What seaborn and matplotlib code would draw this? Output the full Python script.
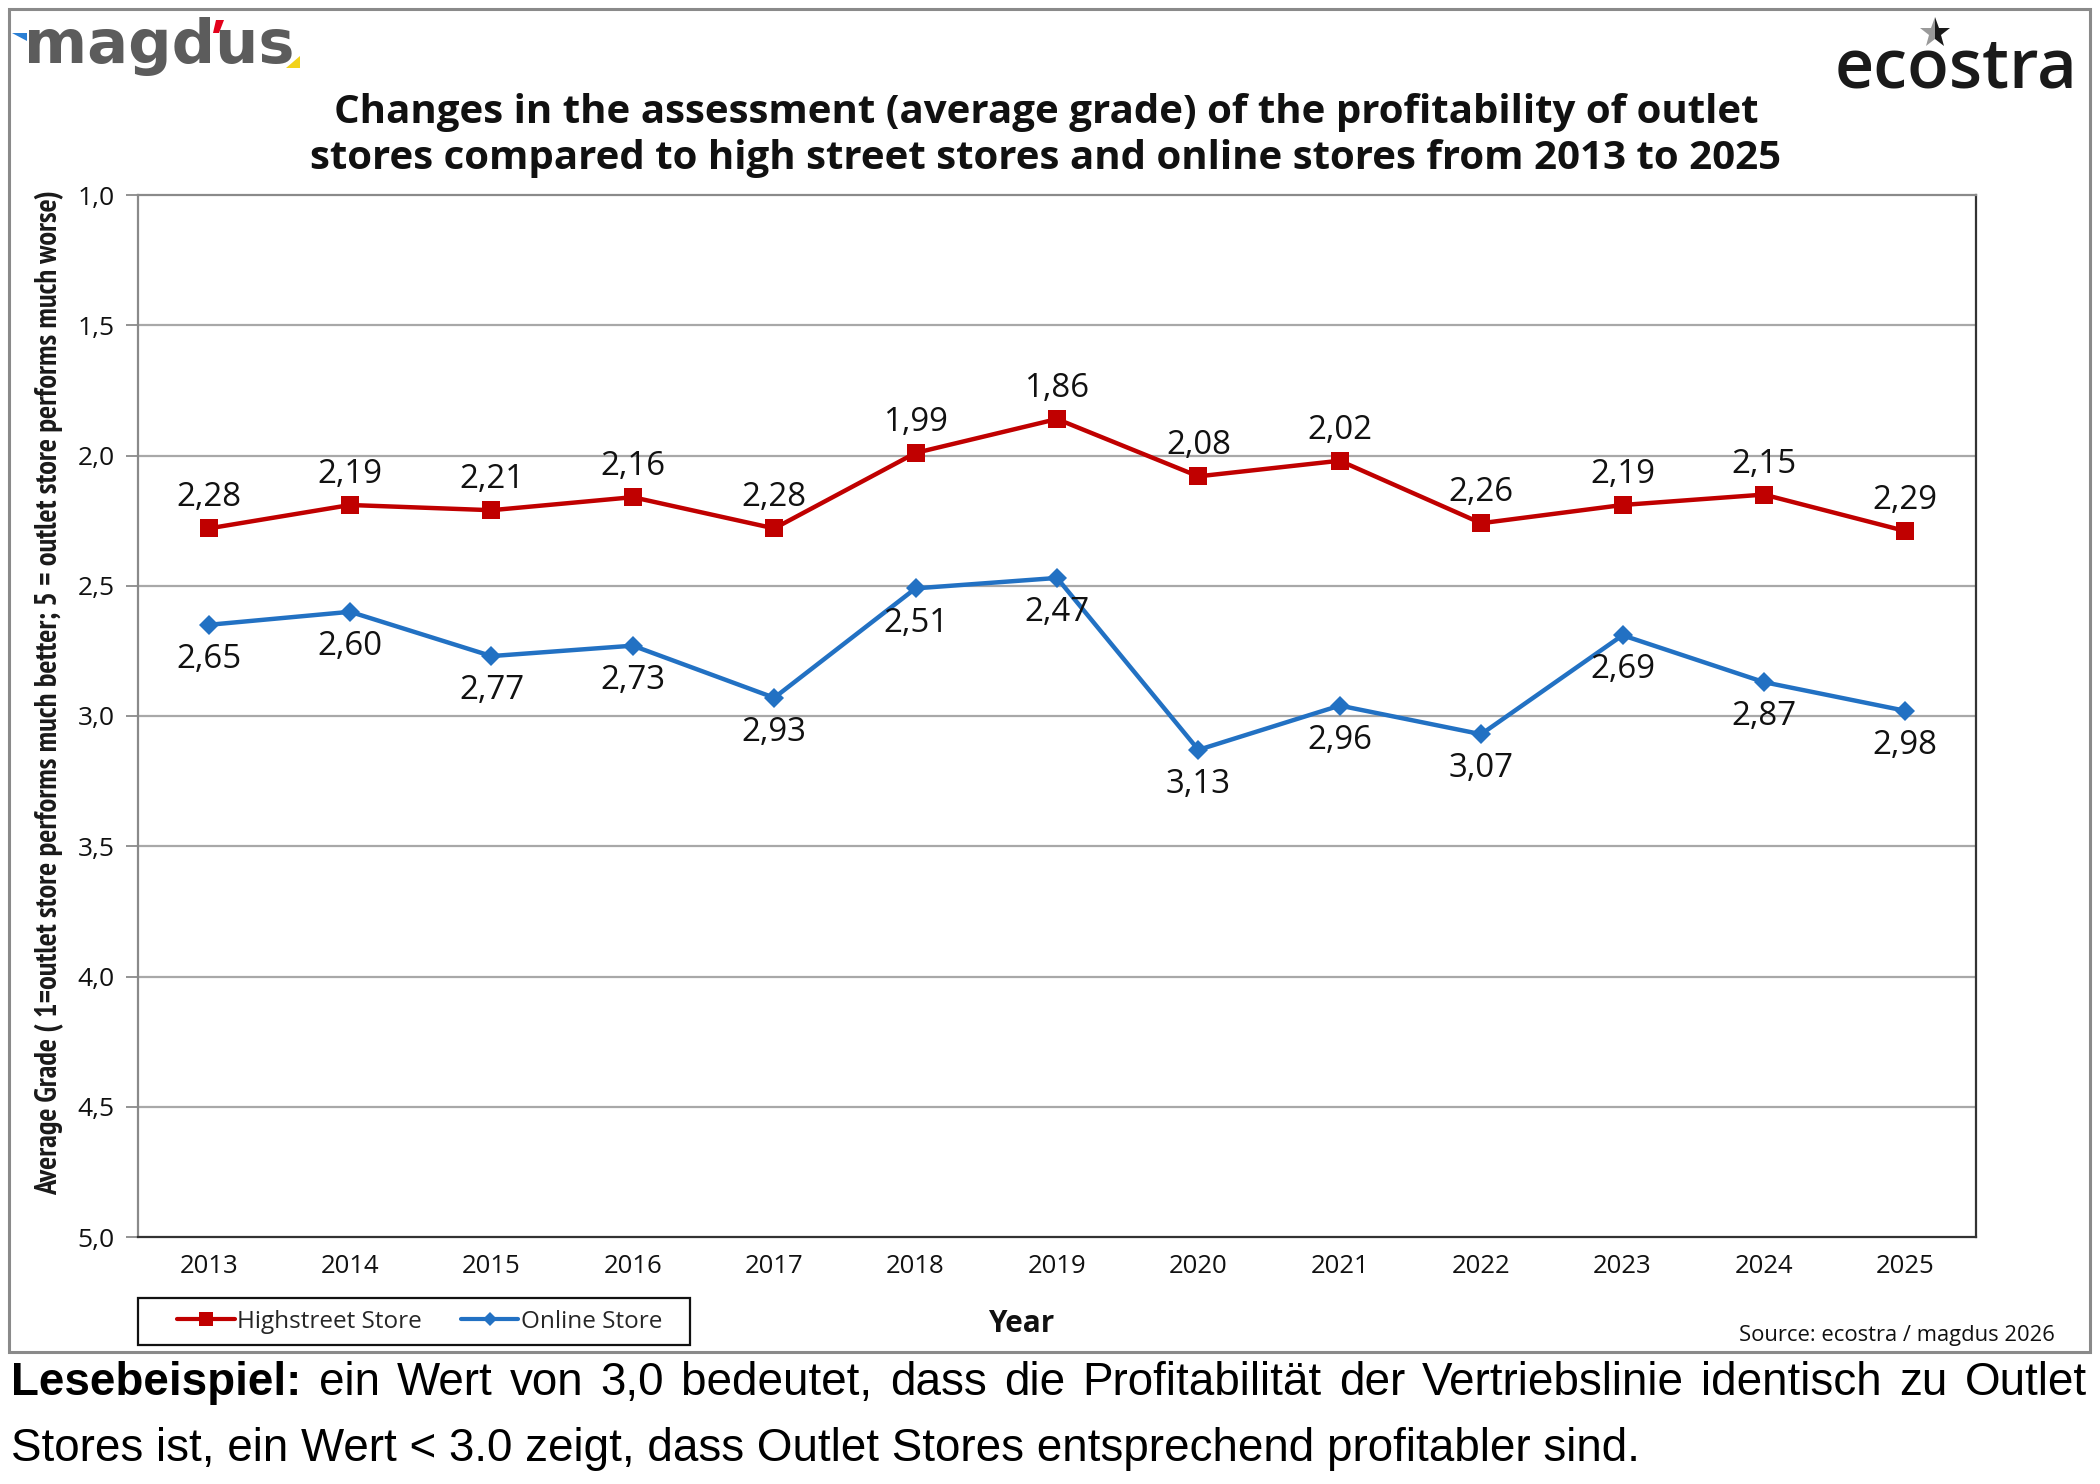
import matplotlib
matplotlib.use("Agg")
import matplotlib.pyplot as plt
import seaborn as sns
import pandas as pd
from matplotlib import font_manager as fm
from matplotlib.patches import Rectangle, Polygon
from matplotlib.lines import Line2D

# ---------------- data ----------------
years = ["2013", "2014", "2015", "2016", "2017", "2018", "2019",
         "2020", "2021", "2022", "2023", "2024", "2025"]
highstreet = [2.28, 2.19, 2.21, 2.16, 2.28, 1.99, 1.86, 2.08, 2.02, 2.26, 2.19, 2.15, 2.29]
online = [2.65, 2.60, 2.77, 2.73, 2.93, 2.51, 2.47, 3.13, 2.96, 3.07, 2.69, 2.87, 2.98]
y_ticks = [1.0, 1.5, 2.0, 2.5, 3.0, 3.5, 4.0, 4.5, 5.0]
series_names = ["Highstreet Store", "Online Store"]
title_lines = ["Changes in the assessment (average grade) of the profitability of outlet",
               "stores compared to high street stores and online stores from 2013 to 2025"]
y_label = "Average Grade ( 1=outlet store performs much better; 5 = outlet store performs much worse)"
x_label = "Year"
source = "Source: ecostra / magdus 2026"
note_line1 = "Lesebeispiel: ein Wert von 3,0 bedeutet, dass die Profitabilität der Vertriebslinie identisch zu Outlet"
note_line2 = "Stores ist, ein Wert < 3.0 zeigt, dass Outlet Stores entsprechend profitabler sind."

RED = "#C00000"
BLUE = "#2271C3"

# ---------------- fonts ----------------
def has_font(name):
    try:
        fm.findfont(fm.FontProperties(family=name), fallback_to_default=False)
        return True
    except Exception:
        return False

def pick(*names):
    avail = [n for n in names if has_font(n)]
    return avail + ["DejaVu Sans"]

SANS = pick("Open Sans", "Noto Sans")          # Tahoma-like
NARROW = pick("PT Sans Narrow", "Open Sans Condensed", "IBM Plex Sans Condensed")
ARIAL = pick("Liberation Sans", "Arimo")
LOGO = pick("Open Sans")

sns.set_theme(style="white")
plt.rcParams["font.family"] = SANS

W, H = 2100, 1484
fig = plt.figure(figsize=(21, 14.84), dpi=100)
fig.patch.set_facecolor("white")

def fx(px):
    return px / W

def fy(py):
    return 1 - py / H

# outer border
fig.add_artist(Rectangle((fx(9), fy(1352)), fx(2090) - fx(9), fy(9) - fy(1352),
                         transform=fig.transFigure, fill=False, edgecolor="#8a8a8a", lw=2.2))

ax = fig.add_axes([fx(138), fy(1237), fx(1976) - fx(138), fy(195) - fy(1237)])
ax.set_facecolor("white")

df = pd.DataFrame({"pos": range(len(years)), "Year": years,
                   series_names[0]: highstreet, series_names[1]: online})
long = df.melt(id_vars=["pos", "Year"], var_name="Series", value_name="Grade")

sns.lineplot(data=long[long.Series == series_names[0]], x="pos", y="Grade", color=RED,
             marker="s", markersize=13.5, markeredgewidth=0, linewidth=3.2, ax=ax, legend=False)
sns.lineplot(data=long[long.Series == series_names[1]], x="pos", y="Grade", color=BLUE,
             marker="D", markersize=10, markeredgewidth=0, linewidth=3.2, ax=ax, legend=False)

ax.set_xlim(-0.5, len(years) - 0.5)
ax.set_ylim(5.0, 1.0)
ax.set_yticks(y_ticks)
ax.set_yticklabels([f"{v:.1f}".replace(".", ",") for v in y_ticks],
                   fontsize=19, color="#111111")
ax.set_xticks(range(len(years)))
ax.set_xticklabels(years, fontsize=18.5, color="#111111")
ax.tick_params(axis="y", length=9, width=1.3, color="#8a8a8a", pad=8, left=True)
ax.tick_params(axis="x", length=0, pad=12)
ax.set_xlabel("")
ax.set_ylabel("")
for y in y_ticks[1:-1]:
    ax.axhline(y, color="#a8a8a8", lw=1.6, zorder=0)
ax.spines["left"].set_color("#8a8a8a")
ax.spines["top"].set_color("#8a8a8a")
ax.spines["right"].set_color("#333333")
ax.spines["bottom"].set_color("#333333")
for s in ax.spines.values():
    s.set_linewidth(1.6)
    s.set_visible(True)

fig.canvas.draw()
r = fig.canvas.get_renderer()

def fit_width(t, target, vertical=False):
    bb = t.get_window_extent(r)
    cur = bb.height if vertical else bb.width
    t.set_fontsize(t.get_fontsize() * target / cur)

# data labels: size chosen so that "2,28" matches the reference width
probe = fig.text(0.5, 0.5, "2,28", fontsize=20, family=SANS)
fit_width(probe, 65)
lab_size = probe.get_fontsize()
probe.remove()
for i, v in enumerate(highstreet):
    ax.annotate(f"{v:.2f}".replace(".", ","), (i, v), xytext=(0, 22), textcoords="offset points",
                ha="center", va="center", family=SANS, fontsize=lab_size, color="#111111")
for i, v in enumerate(online):
    ax.annotate(f"{v:.2f}".replace(".", ","), (i, v), xytext=(0, -25), textcoords="offset points",
                ha="center", va="center", family=SANS, fontsize=lab_size, color="#111111")

# legend: box drawn separately, entries centred inside it
lx0, lx1, ly0, ly1 = 138, 690, 1298, 1345
fig.add_artist(Rectangle((fx(lx0), fy(ly1)), fx(lx1) - fx(lx0), fy(ly0) - fy(ly1),
                         transform=fig.transFigure, fill=False, edgecolor="#111111", lw=1.6))
handles = [Line2D([], [], color=RED, marker="s", markersize=10, lw=3, markeredgewidth=0),
           Line2D([], [], color=BLUE, marker="D", markersize=7.5, lw=3, markeredgewidth=0)]
leg = fig.legend(handles, series_names, loc="center", ncol=2,
                 bbox_to_anchor=(fx((lx0 + lx1) / 2 + 6), fy((ly0 + ly1) / 2)),
                 bbox_transform=fig.transFigure, frameon=False,
                 prop={"family": SANS, "size": 17.5}, handlelength=2.35, handletextpad=0.12,
                 borderaxespad=0, borderpad=0.0, columnspacing=1.6)

# titles and axis texts
t1 = fig.text(0.498, fy(112), title_lines[0], ha="center", va="center",
              fontsize=26, fontweight="bold", color="#111111")
t2 = fig.text(0.498, fy(159), title_lines[1], ha="center", va="center",
              fontsize=26, fontweight="bold", color="#111111")
fit_width(t1, 1431)
t2.set_fontsize(t1.get_fontsize())

yl = fig.text(fx(50), fy(693), y_label, rotation=90, ha="center", va="center",
              family=NARROW, fontsize=16, fontweight="bold", color="#1a1a1a")
fit_width(yl, 1006, vertical=True)

xl = fig.text(fx(1021), fy(1324), x_label, ha="center", va="center",
              fontsize=20, fontweight="bold", color="#111111")
fit_width(xl, 66)

src = fig.text(fx(2055), fy(1335), source, ha="right", va="center",
               fontsize=15, color="#111111")
fit_width(src, 315)

# logos
mg = fig.text(fx(159), fy(63), "magdus", ha="center", va="baseline",
              family=["DejaVu Sans"], fontsize=40, fontweight="bold", color="#5c5c5c")
fit_width(mg, 270)
fig.add_artist(Polygon([(fx(12), fy(33)), (fx(27), fy(33)), (fx(27), fy(41))],
                       closed=True, transform=fig.transFigure, color="#2A7FD4", lw=0))
fig.add_artist(Polygon([(fx(216), fy(20)), (fx(224), fy(20)), (fx(219), fy(33)), (fx(213), fy(33))],
                       closed=True, transform=fig.transFigure, color="#E3001B", lw=0))
fig.add_artist(Polygon([(fx(300), fy(56)), (fx(300), fy(68)), (fx(286), fy(68))],
                       closed=True, transform=fig.transFigure, color="#F2D21B", lw=0))

ec = fig.text(fx(1956), fy(88), "ecostra", ha="center", va="baseline",
              family=LOGO, fontsize=48, fontweight="semibold", color="#1a1a1a")
fit_width(ec, 243)
fig.add_artist(Line2D([fx(1935)], [fy(33)], transform=fig.transFigure, marker="*",
                      markersize=23, fillstyle="left", markerfacecolor="#9a9a9a",
                      markerfacecoloralt="#1a1a1a", markeredgewidth=0, linestyle="none"))

# reading note below the frame
n2 = fig.text(fx(11), fy(1449), note_line2, ha="left", va="center",
              family=ARIAL, fontsize=30, color="#000000")
fit_width(n2, 1626)
size = n2.get_fontsize()
words = note_line1.split(" ")
wtexts = [fig.text(0, fy(1383), w, ha="left", va="center", family=ARIAL, fontsize=size,
                   fontweight="bold" if i == 0 else "normal", color="#000000")
          for i, w in enumerate(words)]
widths = [t.get_window_extent(r).width for t in wtexts]
gap = (2076 - sum(widths)) / (len(words) - 1)
x = 11
for t, wdt in zip(wtexts, widths):
    t.set_x(fx(x))
    x += wdt + gap

fig.savefig("out.png", dpi=100, facecolor="white")
